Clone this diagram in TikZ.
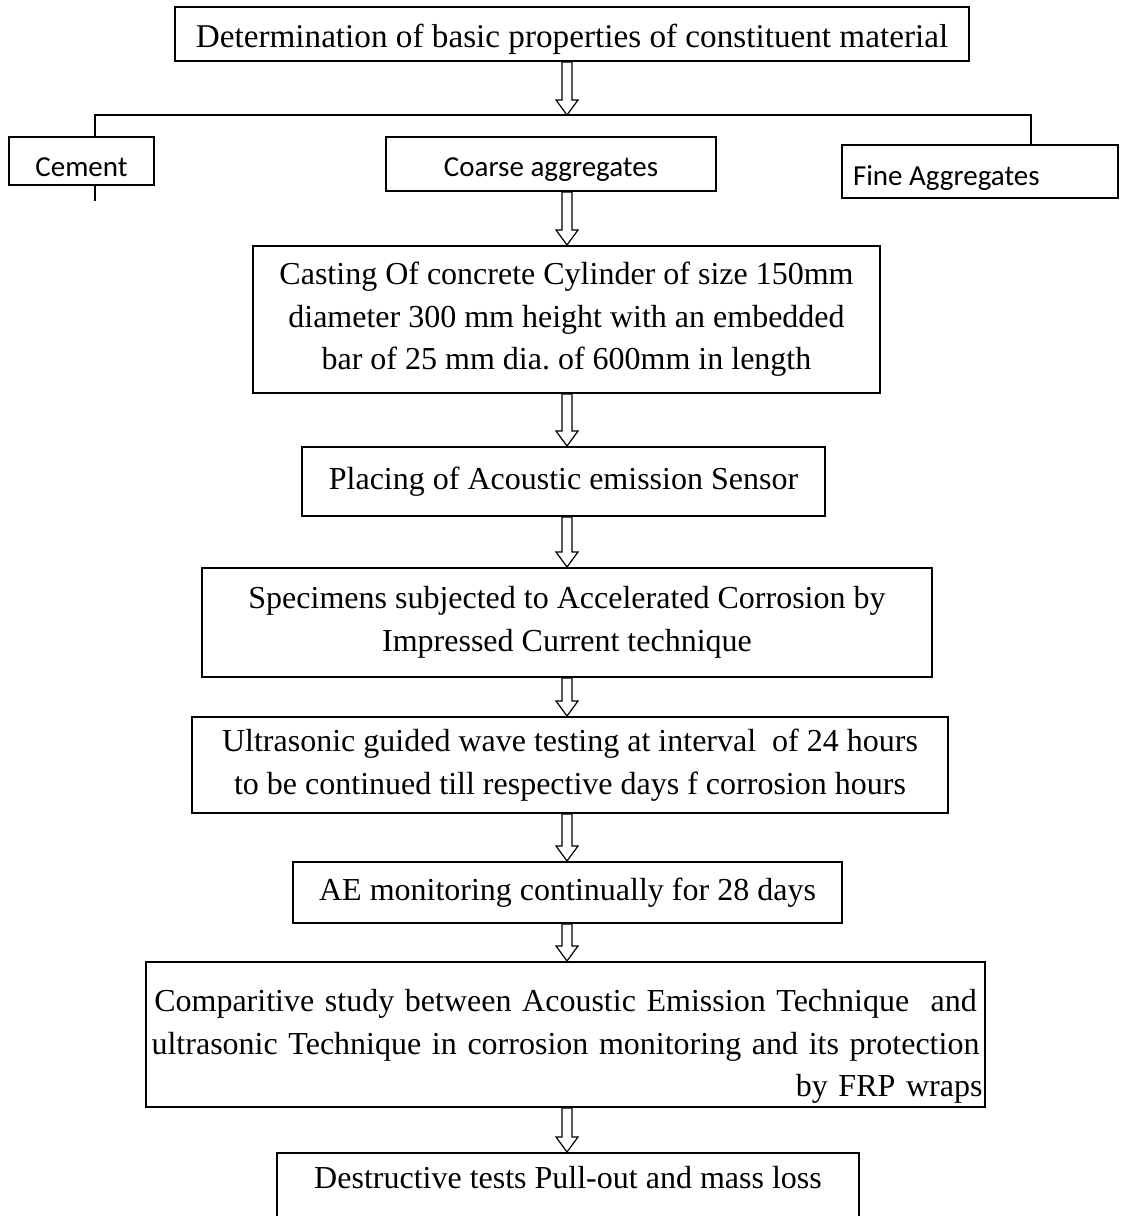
\documentclass[tikz,border=0pt]{standalone}
\usepackage{fontspec}
\setmainfont{Liberation Serif}
\newfontfamily\calibrifont{Carlito}
\usetikzlibrary{calc}
\frenchspacing

\begin{document}
\begin{tikzpicture}[
    x=0.5pt,y=-0.5pt,
    stepbox/.style={draw=black,line width=1pt,inner sep=0pt,align=center,font=\fontsize{16}{21.3}\selectfont},
    matbox/.style={draw=black,line width=1pt,inner sep=0pt,align=center,text depth=0pt,font=\calibrifont\fontsize{14.5}{17}\selectfont},
    bus/.style={line width=0.8pt},
    flowarrow/.style={draw=black,fill=white,line width=0.6pt,line join=miter,
      to path={let \p1=(\tikztostart),\p2=(\tikztotarget) in
        (\x1-2.5pt,\y1) -- (\x1-2.5pt,\y2+7.5pt) -- (\x1-5.5pt,\y2+7.5pt) -- (\x1,\y2)
        -- (\x1+5.5pt,\y2+7.5pt) -- (\x1+2.5pt,\y2+7.5pt) -- (\x1+2.5pt,\y1) -- cycle}}
]
\useasboundingbox (0,0) rectangle (1120,1216);
\coordinate (spine) at (567,0);

% Material properties and constituents
\node[stepbox,minimum width=397pt,minimum height=27pt,text height=13pt,text depth=0pt,font=\fontsize{16.6}{21.3}\selectfont] (props) at (572,34) {Determination of basic properties of constituent material};
\coordinate (busL) at (95,115);
\coordinate (busR) at (1031,115);
\node[matbox,minimum width=72.5pt,minimum height=24pt,text height=15pt] (cement) at (81.5,161) {Cement};
\node[matbox,minimum width=165pt,minimum height=27pt,text height=12pt] (coarse) at (551,164) {Coarse aggregates};
\node[matbox,minimum width=138pt,minimum height=26.5pt,text height=13.5pt,inner xsep=5.5pt,text width=127pt,align=flush left] (fine) at (980,171.5) {Fine Aggregates};
\coordinate (stub) at (95,201);
\path[flowarrow] (props.south -| spine) to (busL -| spine);
\draw[bus] (cement.north -| busL) -- (busL) -- (busR) -- (fine.north -| busR);
\draw[bus] (cement.south -| stub) -- (stub);

% Specimen preparation and testing sequence
\node[stepbox,minimum width=313.5pt,minimum height=73.5pt] (casting) at (566.5,319.5) {Casting Of concrete Cylinder of size 150mm\\diameter 300 mm height with an embedded\\bar of 25 mm dia. of 600mm in length};
\node[stepbox,minimum width=261.5pt,minimum height=34.5pt] (sensor) at (563.5,481.5) {Placing of Acoustic emission Sensor};
\node[stepbox,minimum width=365pt,minimum height=54.5pt] (corrosion) at (567,622.5) {Specimens subjected to Accelerated Corrosion by\\Impressed Current technique};
\node[stepbox,minimum width=378pt,minimum height=48pt] (ultra) at (570,765) {Ultrasonic guided wave testing at interval\ \ of 24 hours\\to be continued till respective days f corrosion hours};
\node[stepbox,minimum width=274.5pt,minimum height=30.5pt] (aemon) at (567.5,892.5) {AE monitoring continually for 28 days};
\node[stepbox,minimum width=419.5pt,minimum height=72.5pt,text width=417pt,text height=23pt] (study) at (565.5,1034.5) {Comparitive study between Acoustic Emission Technique\ \ and\\ultrasonic Technique in corrosion monitoring and its protection\\\mbox{}\hfill\mbox{by FRP wraps}};
\node[stepbox,minimum width=291pt,anchor=north,inner ysep=6.5pt,text depth=30pt] (destr) at (568,1152) {Destructive tests Pull-out and mass loss};

\foreach \a/\b in {coarse/casting,casting/sensor,sensor/corrosion,corrosion/ultra,ultra/aemon,aemon/study,study/destr}
  \path[flowarrow] (\a.south -| spine) to (\b.north -| spine);
\end{tikzpicture}
\end{document}
